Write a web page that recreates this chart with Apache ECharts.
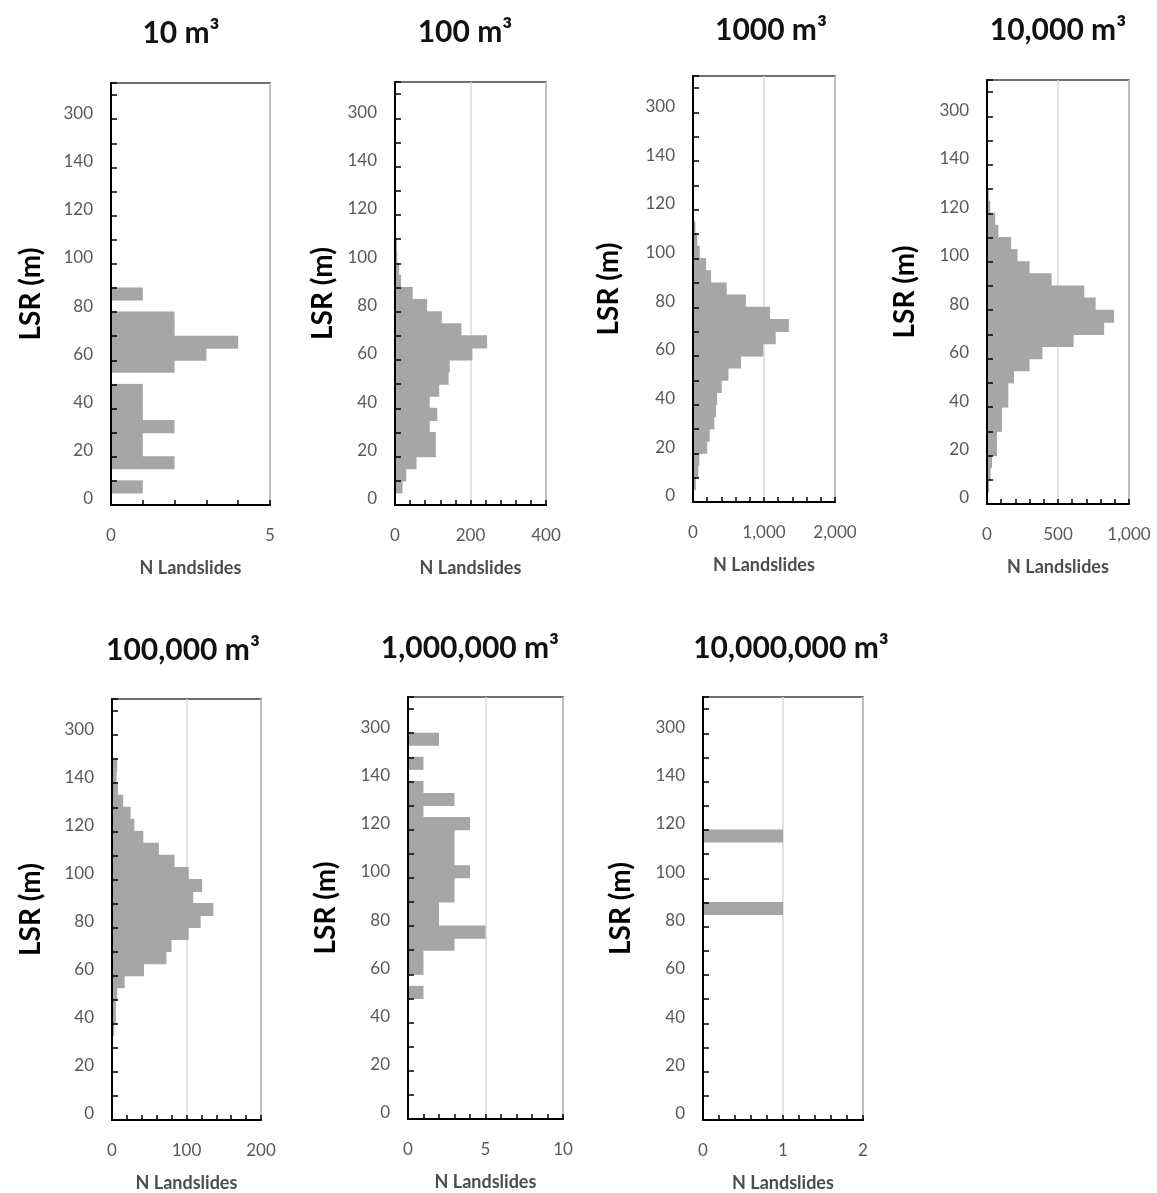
<!DOCTYPE html>
<html>
<head>
<meta charset="utf-8">
<script src="https://cdn.jsdelivr.net/npm/echarts@6/dist/echarts.min.js"></script>
<style>
  html, body { margin: 0; padding: 0; background: #fff; }
  #chart { width: 1157px; height: 1193px; }
</style>
</head>
<body>
<div id="chart"></div>
<script>
// LSR bins, 5 m wide; the bin labelled 300 gathers the long tail.
const lsrBins = ['0','5','10','15','20','25','30','35','40','45','50','55','60','65','70','75',
  '80','85','90','95','100','105','110','115','120','125','130','135','140','145','150','155',
  '300','305','310'];

// Landslide counts per LSR bin, one array per volume class.
const n10 = [0,1,0,2,1,1,2,1,1,1,0,2,3,4,2,2,0,1,0,0,0,0,0,0,0,0,0,0,0,0,0,0,0,0,0];
const n100 = [0,20,30,57,108,108,92,112,92,117,142,145,205,244,176,124,85,47,16,11,6,5,3,2,2,1,1,0,0,0,0,0,0,0,0];
const n1000 = [10,40,75,90,200,235,300,325,340,405,500,675,990,1165,1350,1085,745,475,255,185,95,60,35,15,5,0,0,0,0,0,0,0,0,0,0];
const n10k = [5,15,25,35,70,70,105,105,150,150,190,300,390,610,825,895,765,685,455,300,215,170,80,58,23,12,4,0,0,0,0,0,0,0,0];
const n100k = [0,0,0,0,0,0,0,3,5,5,7,17,43,73,80,103,119,136,109,121,103,84,63,42,30,25,15,8,6,7,0,0,0,0,0];
const n1M = [0,0,0,0,0,0,0,0,0,0,1,0,1,1,3,5,2,2,3,3,4,3,3,3,4,1,3,1,0,1,0,2,0,0,0];
const n10M = [0,0,0,0,0,0,0,0,0,0,0,0,0,0,0,0,0,1,0,0,0,0,0,1,0,0,0,0,0,0,0,0,0,0,0];

// Volume class titles and count-axis ranges.
const titles = ['10 m³','100 m³','1000 m³','10,000 m³','100,000 m³','1,000,000 m³','10,000,000 m³'];
const seriesData = [n10, n100, n1000, n10k, n100k, n1M, n10M];
const xMax = [5, 400, 2000, 1000, 200, 10, 2];
const xStep = [5, 200, 1000, 500, 100, 5, 1];

// Panel layout (plot rectangles, title centres, y-name gaps).
const layout = [
  { grid: [111, 83, 159, 422], title: [181, 33], gap: 66 },
  { grid: [395, 82, 151, 423], title: [465, 32], gap: 58 },
  { grid: [693, 76, 142, 426], title: [771, 30], gap: 70 },
  { grid: [987, 80, 142, 424], title: [1058, 30], gap: 68 },
  { grid: [112, 699, 149, 425], title: [183, 650], gap: 67 },
  { grid: [408, 697, 155, 422], title: [470, 648], gap: 68 },
  { grid: [703, 697, 160, 423], title: [791, 648], gap: 68 }
];

const FONT = 'Lato, "Open Sans", sans-serif';
const GRAY = '#595959';
const BAR = '#a6a6a6';

// Histogram bars: each bin fills its whole category band, overlapping its
// neighbours by a hair so the stacked bins read as one solid shape.
function renderBin(params, api) {
  const count = api.value(0);
  const bin = api.value(1);
  if (!count) return null;
  const base = api.coord([0, bin]);
  const tip = api.coord([count, bin]);
  const band = api.size([0, 1])[1];
  return {
    type: 'rect',
    shape: { x: base[0], y: base[1] - band / 2 - 0.5, width: tip[0] - base[0], height: band + 1 },
    style: { fill: BAR }
  };
}

const chart = echarts.init(document.getElementById('chart'), null, { renderer: 'canvas' });

const option = {
  animation: false,
  backgroundColor: '#fff',
  textStyle: { fontFamily: FONT },
  grid: layout.map(l => ({
    left: l.grid[0], top: l.grid[1], width: l.grid[2], height: l.grid[3],
    show: true, borderColor: '#404040', borderWidth: 1.5, backgroundColor: 'transparent'
  })),
  xAxis: layout.map((l, i) => ({
    type: 'value', gridIndex: i, min: 0, max: xMax[i], interval: xStep[i],
    name: 'N Landslides', nameLocation: 'middle', nameGap: 54,
    nameTextStyle: { fontFamily: FONT, fontSize: 18, fontWeight: 'bold', color: '#4d4d4d' },
    axisLine: { show: true, onZero: false, lineStyle: { color: '#000', width: 2 } },
    axisTick: { show: true, inside: true, length: 5, lineStyle: { color: '#000', width: 1.5 } },
    minorTick: { show: true, splitNumber: 5, length: 5, lineStyle: { color: '#000', width: 1.5 } },
    axisLabel: { margin: 22, fontFamily: FONT, fontSize: 17, color: GRAY,
      formatter: v => v.toLocaleString('en-US') },
    splitLine: { show: true, lineStyle: { color: '#d9d9d9', width: 1.5 } }
  })),
  yAxis: layout.map((l, i) => ({
    type: 'category', gridIndex: i, data: lsrBins,
    name: 'LSR (m)', nameLocation: 'middle', nameRotate: 90, nameGap: l.gap,
    nameTextStyle: { fontFamily: FONT, fontSize: 28, fontWeight: 'bold', color: '#000' },
    axisLine: { show: true, onZero: false, lineStyle: { color: '#000', width: 2 } },
    axisTick: { show: true, inside: true, interval: 1, alignWithLabel: false, length: 6,
      lineStyle: { color: '#000', width: 1.5 } },
    axisLabel: { interval: 3, margin: 18, fontFamily: FONT, fontSize: 17, color: GRAY,
      padding: [4, 0, 0, 0] },
    splitLine: { show: false },
    z: 3
  })),
  series: seriesData.map((d, i) => ({
    type: 'custom', xAxisIndex: i, yAxisIndex: i,
    data: d.map((count, bin) => [count, bin]),
    encode: { x: 0, y: 1 },
    renderItem: renderBin,
    clip: true,
    silent: true,
    z: 2
  })),
  graphic: titles.map((t, i) => ({
    type: 'text', x: layout[i].title[0], y: layout[i].title[1],
    style: { text: t, font: 'bold 30px ' + FONT, fill: '#111', align: 'center', verticalAlign: 'middle' }
  }))
};

chart.setOption(option);
</script>
</body>
</html>
